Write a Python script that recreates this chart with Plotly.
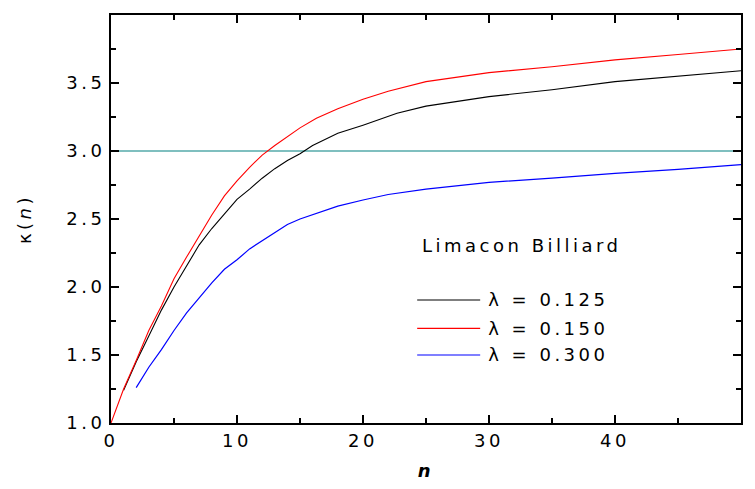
import plotly.graph_objects as go

# lambda = 0.125 (black)
n_black = [1, 2, 3, 4, 5, 6, 7, 8, 9, 10, 11, 12, 13, 14, 15, 16, 18, 20, 22.7, 25, 30, 35, 40, 45, 50]
k_black = [1.24, 1.45, 1.64, 1.83, 2.00, 2.155, 2.31, 2.43, 2.54, 2.645, 2.72, 2.80, 2.87, 2.93,
           2.98, 3.04, 3.13, 3.19, 3.277, 3.33, 3.40, 3.45, 3.51, 3.55, 3.59]

# lambda = 0.150 (red)
n_red = [0, 1, 2, 3, 4, 5, 6, 7, 8, 9, 10, 11, 12, 13, 14, 15, 16.3, 18, 20, 22, 25, 30, 35, 40, 45, 50]
k_red = [1.0, 1.25, 1.46, 1.68, 1.86, 2.06, 2.22, 2.38, 2.53, 2.67, 2.78, 2.88, 2.97, 3.04, 3.105,
         3.17, 3.24, 3.31, 3.38, 3.44, 3.51, 3.576, 3.62, 3.67, 3.71, 3.75]

# lambda = 0.300 (blue)
n_blue = [2, 3, 4, 5, 6, 7, 8, 9, 10, 11, 12, 13, 14, 15, 16, 17, 18, 20, 22, 25, 30, 35, 40, 45, 50]
k_blue = [1.26, 1.41, 1.54, 1.68, 1.81, 1.92, 2.03, 2.13, 2.20, 2.28, 2.34, 2.40, 2.46, 2.50,
          2.53, 2.565, 2.595, 2.64, 2.68, 2.72, 2.77, 2.80, 2.836, 2.865, 2.90]

# reference level
n_ref = [0, 50]
k_ref = [3.0, 3.0]

legend_labels = ["λ = 0.125", "λ = 0.150", "λ = 0.300"]
legend_colors = ["#000000", "#ff0000", "#0000ff"]
legend_title = "Limacon Billiard"

FONT = "DejaVu Sans, Verdana, sans-serif"
FS = 18
SPACING = 3.5  # px letter spacing applied to all svg text
PLOT_W = 630

fig = go.Figure()
fig.add_trace(go.Scatter(x=n_ref, y=k_ref, mode="lines", line=dict(color="#008080", width=1.2),
                         showlegend=False))
fig.add_trace(go.Scatter(x=n_black, y=k_black, mode="lines", line=dict(color=legend_colors[0], width=1.1),
                         name=legend_labels[0], showlegend=False))
fig.add_trace(go.Scatter(x=n_red, y=k_red, mode="lines", line=dict(color=legend_colors[1], width=1.1),
                         name=legend_labels[1], showlegend=False))
fig.add_trace(go.Scatter(x=n_blue, y=k_blue, mode="lines", line=dict(color=legend_colors[2], width=1.2),
                         name=legend_labels[2], showlegend=False))


def shift(txt):
    # annotation text is centred in its box; letter spacing widens it symmetrically
    return len(txt) * SPACING / 2 / PLOT_W


# manual legend
leg_y = [0.3015, 0.232, 0.1667]
for lab, col, yy in zip(legend_labels, legend_colors, leg_y):
    fig.add_shape(type="line", xref="paper", yref="paper", x0=0.486, x1=0.586, y0=yy, y1=yy,
                  line=dict(color=col, width=1.2))
    fig.add_annotation(xref="paper", yref="paper", x=0.596 + shift(lab), y=yy, xanchor="left",
                       yanchor="middle", text=lab, showarrow=False,
                       font=dict(family=FONT, size=FS, color="black"))
fig.add_annotation(xref="paper", yref="paper", x=0.490 + shift(legend_title), y=0.436, xanchor="left",
                   yanchor="middle", text=legend_title, showarrow=False,
                   font=dict(family=FONT, size=FS, color="black"))

fig.update_xaxes(range=[0, 50], tickmode="linear", tick0=0, dtick=10,
                 showgrid=False, zeroline=False, showline=True, linecolor="black", linewidth=2,
                 mirror="ticks", ticks="inside", ticklen=8, tickwidth=2, tickcolor="black",
                 minor=dict(ticks="inside", ticklen=5, tickwidth=1.5, tickcolor="black", dtick=5),
                 tickfont=dict(family=FONT, size=FS, color="black"), automargin=False,
                 title=dict(text="<b><i>n</i></b>", font=dict(family=FONT, size=FS, color="black"), standoff=20))
fig.update_yaxes(range=[1, 4], tickmode="linear", tick0=1, dtick=0.5, tickformat=".1f",
                 showgrid=False, zeroline=False, showline=True, linecolor="black", linewidth=2,
                 mirror="ticks", ticks="inside", ticklen=8, tickwidth=2, tickcolor="black",
                 minor=dict(ticks="inside", ticklen=5, tickwidth=1.5, tickcolor="black", dtick=0.25),
                 tickfont=dict(family=FONT, size=FS, color="black"), automargin=False,
                 title=dict(text="κ(<i>n</i>)", font=dict(family=FONT, size=FS, color="black"), standoff=40))

# page body keeps its default 8px margin, so the figure is sized to fit inside the window
fig.update_layout(
    template="none",
    width=739, height=473,
    margin=dict(l=103, r=6, t=7, b=58),
    plot_bgcolor="white", paper_bgcolor="white",
    font=dict(family=FONT, size=FS, color="black"),
    showlegend=False,
)

post = (
    "document.querySelectorAll('.main-svg text').forEach(function(t){t.style.letterSpacing='"
    + str(SPACING) + "px';});"
    "var NS='http://www.w3.org/2000/svg';"
    "var svgs=document.querySelectorAll('.main-svg');var tp=svgs[svgs.length-1];"
    "var grp=document.createElementNS(NS,'g');tp.appendChild(grp);"
    "document.querySelectorAll('.main-svg path.ticks').forEach(function(p){"
    " var m=/translate\\(\\s*([-\\d.e]+)[ ,]+([-\\d.e]+)\\s*\\)/.exec(p.getAttribute('transform')||'');"
    " var tx=m?parseFloat(m[1]):0, ty=m?parseFloat(m[2]):0;"
    " var w=parseFloat(p.style.strokeWidth)||1.5;"
    " var segs=(p.getAttribute('d')||'').match(/[MmHhVvLl][^MmHhVvLl]*/g)||[];"
    " var cx=0, cy=0;"
    " segs.forEach(function(s){var c=s[0];var nums=s.slice(1).trim().split(/[ ,]+/).map(parseFloat);"
    "  var x0=cx, y0=cy;"
    "  if(c==='M'){cx=nums[0];cy=nums[1];return;}"
    "  if(c==='h'){cx+=nums[0];} else if(c==='v'){cy+=nums[0];}"
    "  else if(c==='H'){cx=nums[0];} else if(c==='V'){cy=nums[0];}"
    "  else if(c==='L'){cx=nums[0];cy=nums[1];} else {return;}"
    "  var ln=document.createElementNS(NS,'line');"
    "  ln.setAttribute('x1',x0+tx);ln.setAttribute('y1',y0+ty);"
    "  ln.setAttribute('x2',cx+tx);ln.setAttribute('y2',cy+ty);"
    "  ln.setAttribute('stroke','#000000');ln.setAttribute('stroke-width',w);"
    "  grp.appendChild(ln);});"
    "});"
)
fig.write_html("out.html", post_script=post, config={"displayModeBar": False})
